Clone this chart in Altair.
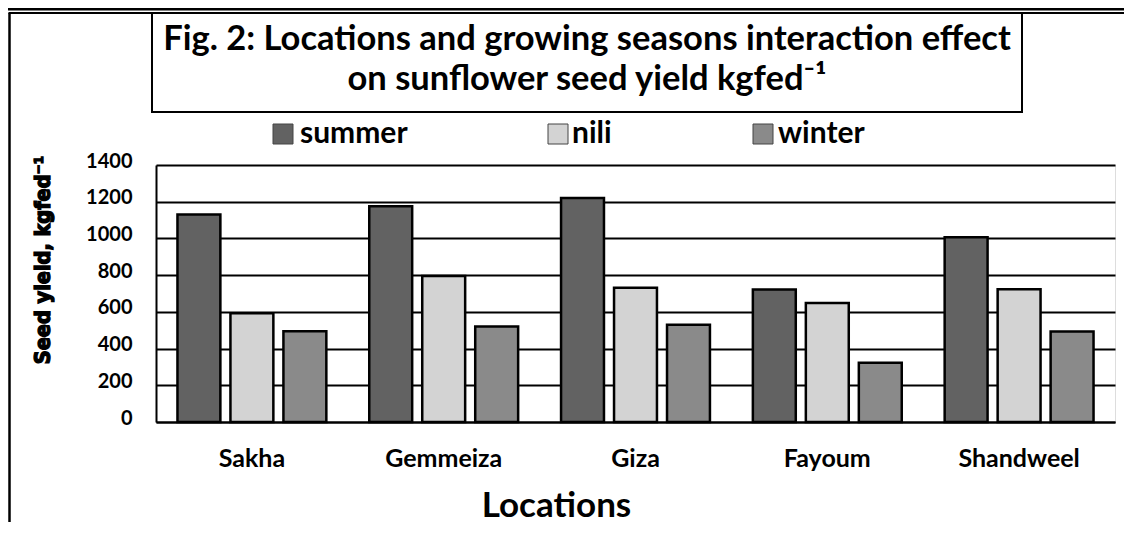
import altair as alt
import pandas as pd

# ---- data ----
locations = ["Sakha", "Gemmeiza", "Giza", "Fayoum", "Shandweel"]
seasons = ["summer", "nili", "winter"]
summer = [1130, 1175, 1220, 722, 1006]
nili = [592, 796, 732, 648, 723]
winter = [495, 520, 530, 323, 493]
y_ticks = [0, 200, 400, 600, 800, 1000, 1200, 1400]

title_lines = ["Fig. 2: Locations and growing seasons interaction effect",
               "on sunflower seed yield kgfed\u207b\u00b9"]
y_title = "Seed yield, kgfed\u207b\u00b9"
x_title = "Locations"

rows = []
for i, loc in enumerate(locations):
    for s, vals in zip(seasons, [summer, nili, winter]):
        rows.append({"Location": loc, "Season": s, "Yield": vals[i]})
df = pd.DataFrame(rows)

# ---- styles ----
FONT = "Lato"
YFONT = "Liberation Sans Narrow, DejaVu Sans Condensed, Lato"
fills = ["#626262", "#d3d3d3", "#8a8a8a"]
W, H = 959, 257
legend_sym_x = [127, 402, 607]
legend_txt_x = [144, 416, 622]
legend_y = -31

one = pd.DataFrame({"d": [0]})

bars = alt.Chart(df).mark_bar(stroke="black", strokeWidth=2.5).encode(
    x=alt.X("Location:N", sort=locations,
            scale=alt.Scale(paddingInner=0, paddingOuter=0),
            axis=alt.Axis(title=x_title, labelAngle=0, ticks=False,
                          domainColor="black", domainWidth=2,
                          labelFont=FONT, labelFontSize=25, labelFontWeight="bold",
                          labelColor="black", labelPadding=36, labelBaseline="middle",
                          titleFont=FONT, titleFontSize=35, titleFontWeight="bold",
                          titleColor="black", titleX=400, titleY=83,
                          titleBaseline="middle", titleAlign="center")),
    xOffset=alt.XOffset("Season:N", sort=seasons,
                        scale=alt.Scale(domain=seasons, paddingInner=0.19, paddingOuter=0.405)),
    y=alt.Y("Yield:Q", scale=alt.Scale(domain=[0, 1400], nice=False),
            axis=alt.Axis(values=y_ticks, format="d", title=None, ticks=False,
                          domainColor="black", domainWidth=2,
                          grid=True, gridColor="black", gridWidth=2, gridOpacity=1,
                          labelFont=FONT, labelFontSize=20, labelFontWeight="bold",
                          labelColor="black", labelPadding=24, labelOffset=-4)),
    fill=alt.Fill("Season:N", scale=alt.Scale(domain=seasons, range=fills), legend=None),
)

layers = [bars]

# y-axis title (heavy, rotated)
layers.append(alt.Chart(one).mark_text(text=y_title, font=YFONT, fontSize=21.5, fontWeight="bold",
                                       color="black", stroke="black", strokeWidth=1.3,
                                       angle=270, align="center", baseline="middle").encode(
    x=alt.value(-112), y=alt.value(95)))

# title box and title text
layers.append(alt.Chart(one).mark_rect(fill="white", fillOpacity=0, stroke="black", strokeWidth=2).encode(
    x=alt.value(-4), x2=alt.value(866), y=alt.value(-152), y2=alt.value(-53)))
for txt, yy in zip(title_lines, [-115, -75]):
    layers.append(alt.Chart(one).mark_text(text=txt, font=FONT, fontSize=34.5, fontWeight="bold",
                                           color="black", align="center", baseline="alphabetic").encode(
        x=alt.value(431), y=alt.value(yy)))

# frame lines
layers.append(alt.Chart(one).mark_rule(color="black", strokeWidth=2.5).encode(
    x=alt.value(-146.5), y=alt.value(-152), y2=alt.value(400)))
layers.append(alt.Chart(one).mark_rule(color="black", strokeWidth=2).encode(
    x=alt.value(-147.5), x2=alt.value(970), y=alt.value(-152)))
layers.append(alt.Chart(one).mark_rule(color="black", strokeWidth=3).encode(
    x=alt.value(-160), x2=alt.value(970), y=alt.value(-156)))

# legend
for i, s in enumerate(seasons):
    layers.append(alt.Chart(one).mark_square(size=400, fill=fills[i], fillOpacity=1,
                                             stroke="#444444", strokeWidth=1).encode(
        x=alt.value(legend_sym_x[i]), y=alt.value(legend_y)))
    layers.append(alt.Chart(one).mark_text(text=s, font=FONT, fontSize=30, fontWeight="bold",
                                           color="black", align="left", baseline="middle").encode(
        x=alt.value(legend_txt_x[i]), y=alt.value(legend_y)))

chart = alt.layer(*layers).properties(
    width=W, height=H,
    autosize=alt.AutoSizeParams(type="none"),
    padding={"left": 148, "top": 157, "right": 9, "bottom": 100},
).configure_view(stroke="black", strokeWidth=2).configure(background="white")

chart.save("out.html", embed_options={"renderer": "svg", "actions": False})
